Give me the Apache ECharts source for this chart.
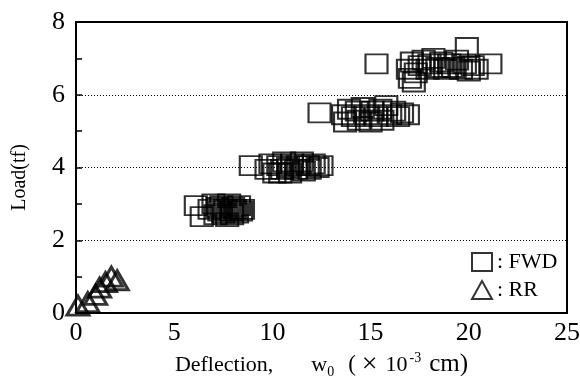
<!DOCTYPE html>
<html>
<head>
<meta charset="utf-8">
<script src="https://cdn.jsdelivr.net/npm/echarts@6/dist/echarts.min.js"></script>
<style>
  html, body { margin: 0; padding: 0; background: #fff; }
  #chart { width: 580px; height: 376px; }
</style>
</head>
<body>
<div id="chart"></div>
<script>
// Axis ranges and tick values
const xTicks = [0, 5, 10, 15, 20, 25];
const yTicks = [0, 2, 4, 6, 8];

// FWD measurements: [deflection (x10^-3 cm), load (tf)]
const fwdLoad28 = [
  [6.1, 2.95], [6.4, 2.65], [6.8, 2.85], [7.0, 3.0], [7.1, 2.7], [7.2, 2.9],
  [7.3, 2.8], [7.4, 2.95], [7.5, 2.75], [7.6, 2.85], [7.7, 2.65], [7.8, 3.0],
  [7.9, 2.8], [8.0, 2.9], [8.1, 2.85], [8.2, 2.75], [8.3, 2.95], [8.4, 2.8],
  [8.5, 2.85], [7.95, 2.7]
];
const fwdLoad40 = [
  [8.9, 4.05], [9.7, 3.95], [9.9, 4.1], [10.1, 3.85], [10.3, 4.05], [10.5, 3.95],
  [10.6, 4.15], [10.8, 4.0], [10.9, 3.85], [11.0, 4.1], [11.2, 3.95], [11.3, 4.05],
  [11.5, 4.15], [11.6, 3.9], [11.8, 4.05], [11.9, 3.95], [12.1, 4.1], [12.3, 4.0],
  [12.5, 4.05], [10.4, 3.85]
];
const fwdLoad55 = [
  [12.4, 5.5], [13.6, 5.45], [13.7, 5.25], [13.9, 5.6], [14.1, 5.4], [14.3, 5.55],
  [14.4, 5.3], [14.6, 5.65], [14.8, 5.45], [15.0, 5.25], [15.1, 5.55], [15.3, 5.4],
  [15.5, 5.6], [15.6, 5.3], [15.8, 5.7], [16.0, 5.45], [16.2, 5.55], [16.4, 5.4],
  [16.6, 5.5], [16.9, 5.45]
];
const fwdLoad68 = [
  [15.3, 6.85], [16.9, 6.7], [17.0, 6.45], [17.1, 6.9], [17.2, 6.35], [17.3, 6.6],
  [17.5, 6.8], [17.7, 6.95], [17.9, 6.7], [18.0, 6.85], [18.2, 7.0], [18.4, 6.75],
  [18.6, 6.9], [18.8, 6.7], [19.0, 6.85], [19.2, 6.75], [19.4, 6.95], [19.6, 6.7],
  [19.8, 6.85], [20.0, 6.65], [20.2, 6.8], [20.4, 6.7], [19.9, 7.3], [21.1, 6.85]
];

// RR measurements
const rrPoints = [
  [0.1, 0.2], [0.6, 0.3], [1.0, 0.5], [1.2, 0.7], [1.5, 0.85], [1.8, 1.0], [2.1, 0.9]
];

const serif = '"Liberation Serif", "DejaVu Serif", serif';
const frameLine = { show: true, onZero: false, lineStyle: { color: '#000', width: 2 } };

const chart = echarts.init(document.getElementById('chart'), null, { renderer: 'canvas' });

// Plain axes that close the top and right edges of the plot box
const frameAxisX = {
  type: 'value', position: 'top',
  min: xTicks[0], max: xTicks[xTicks.length - 1], interval: 5,
  axisLine: frameLine,
  axisTick: { show: false }, axisLabel: { show: false }, splitLine: { show: false }
};
const frameAxisY = {
  type: 'value', position: 'right',
  min: yTicks[0], max: yTicks[yTicks.length - 1], interval: 2,
  axisLine: frameLine,
  axisTick: { show: false }, axisLabel: { show: false }, splitLine: { show: false }
};

chart.setOption({
  animation: false,
  backgroundColor: '#fff',
  grid: {
    left: 76, right: 13, top: 22, bottom: 63,
    outerBoundsMode: 'none',
    containLabel: false,
    show: true, borderColor: '#000', borderWidth: 2, backgroundColor: 'transparent'
  },
  legend: {
    orient: 'vertical',
    left: 466, top: 246,
    itemWidth: 20, itemHeight: 18, itemGap: 6,
    formatter: ': {name}',
    textStyle: { fontFamily: serif, fontSize: 22, color: '#000' },
    data: ['FWD', 'RR']
  },
  xAxis: [{
    type: 'value',
    min: xTicks[0], max: xTicks[xTicks.length - 1], interval: 5,
    name: '{t|Deflection,}{w|w}{sub|0}{p|(}{x|×}{t|10}{sup|-3}{c|cm)}',
    nameLocation: 'middle',
    nameGap: 31,
    nameTextStyle: {
      fontFamily: serif, fontSize: 22, color: '#000',
      rich: {
        t: { fontFamily: serif, fontSize: 22 },
        w: { fontFamily: serif, fontSize: 22, padding: [0, 0, 0, 38] },
        sub: { fontFamily: serif, fontSize: 14, verticalAlign: 'bottom', padding: [9, 0, 0, 0] },
        p: { fontFamily: serif, fontSize: 23, padding: [0, 4, 0, 14] },
        x: { fontFamily: serif, fontSize: 28, padding: [0, 8, 0, 2] },
        sup: { fontFamily: serif, fontSize: 14, verticalAlign: 'top', padding: [0, 8, 9, 2] },
        c: { fontFamily: serif, fontSize: 25 }
      }
    },
    axisLine: frameLine,
    axisTick: { show: false },
    axisLabel: { fontFamily: serif, fontSize: 26, color: '#000', margin: 7 },
    splitLine: { show: false }
  }, frameAxisX],
  yAxis: [{
    type: 'value',
    min: yTicks[0], max: yTicks[yTicks.length - 1], interval: 2,
    name: 'Load(tf)',
    nameLocation: 'middle',
    nameGap: 46,
    nameRotate: 90,
    nameTextStyle: { fontFamily: serif, fontSize: 20, color: '#000', padding: [0, 20, 0, 0] },
    axisLine: frameLine,
    axisTick: { show: true, inside: true, length: 6, lineStyle: { color: '#000', width: 1.5 } },
    minorTick: { show: true, splitNumber: 2, length: 6, lineStyle: { color: '#000', width: 1.5 } },
    axisLabel: { fontFamily: serif, fontSize: 26, color: '#000', margin: 11 },
    splitLine: { show: true, lineStyle: { color: '#000', width: 1, type: [1, 2] } }
  }, frameAxisY],
  series: [
    {
      name: 'FWD',
      type: 'scatter',
      symbol: 'rect',
      symbolSize: [22, 19],
      clip: false,
      itemStyle: { color: 'transparent', borderColor: '#000', borderWidth: 2 },
      data: [].concat(fwdLoad28, fwdLoad40, fwdLoad55, fwdLoad68)
    },
    {
      name: 'RR',
      type: 'scatter',
      symbol: 'triangle',
      symbolSize: [22, 19],
      clip: false,
      itemStyle: { color: 'transparent', borderColor: '#000', borderWidth: 3 },
      data: rrPoints
    }
  ]
});
</script>
</body>
</html>
